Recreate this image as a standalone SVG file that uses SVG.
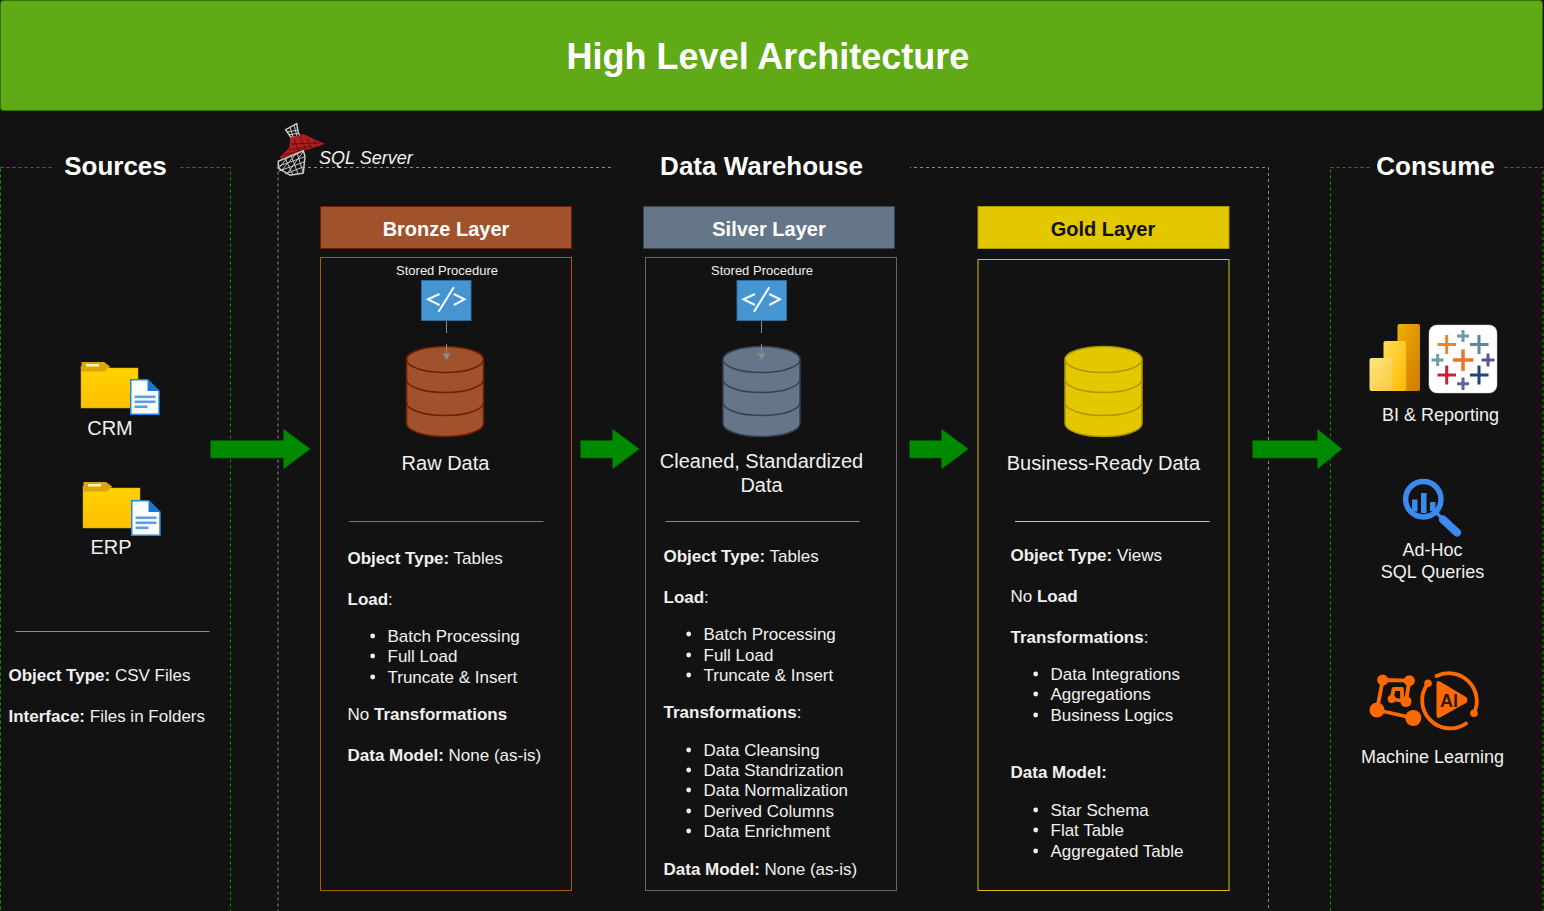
<svg xmlns="http://www.w3.org/2000/svg" width="1544" height="911" viewBox="0 0 1544 911">
<style>
text{font-family:"Liberation Sans",Arial,sans-serif;fill:#f0f0f0;font-size:17px}
.b{font-weight:bold}
.h{font-weight:bold;font-size:20px;text-anchor:middle}
.t{font-weight:bold;font-size:26px;text-anchor:middle;fill:#fff}
.m{text-anchor:middle;font-size:20px}
.s{text-anchor:middle;font-size:18px}
.sp{text-anchor:middle;font-size:13px}
.frame{fill:none;stroke-dasharray:3 3}
.arrow{fill:#008a00;stroke:#005700;stroke-width:.5}
.lnk{stroke:#8c8c8c;stroke-width:1;fill:none}
.ico{fill:#4495d1;stroke:#2f6c9c}
.g{stroke:#fff;stroke-width:2;fill:none}
.bl{fill:#f0f0f0}
.tb{stroke-width:3;fill:none}
</style>
<defs>
<linearGradient id="fold" x1="0" y1="0" x2="0" y2="1"><stop offset="0" stop-color="#ffd400"/><stop offset="1" stop-color="#ffbf00"/></linearGradient>
<linearGradient id="p1" x1="0" y1="0" x2="1" y2="1"><stop offset="0" stop-color="#eeb000"/><stop offset="1" stop-color="#d07a00"/></linearGradient>
<linearGradient id="p2" x1="0" y1="0" x2="1" y2="1"><stop offset="0" stop-color="#ffdc55"/><stop offset="1" stop-color="#ffb900"/></linearGradient>
<linearGradient id="p3" x1="0" y1="0" x2="1" y2="1"><stop offset="0" stop-color="#ffe680"/><stop offset="1" stop-color="#f8c93e"/></linearGradient>
<g id="folder">
<path d="M0 6V46H57V6H29L24 4H0Z" fill="url(#fold)" stroke="#c9a400" stroke-width=".5"/>
<path d="M0.5 0H23L29 4.500L24 9.500H0.500Z" fill="#dda600"/>
<rect x="5" y="2" width="13" height="2.500" fill="#fff3c4"/>
</g>
<g id="doc">
<path d="M0.750 0.750H17.500L29 12V35.250H0.750Z" fill="#fff" stroke="#1e88e5" stroke-width="1.500"/>
<path d="M17.500 0.750L29 12H17.500Z" fill="#1478d4"/>
<rect x="4.500" y="16.500" width="21" height="2.600" fill="#5a9ee8"/>
<rect x="4.500" y="21.500" width="21" height="2.600" fill="#5a9ee8"/>
<rect x="4.500" y="26.500" width="13" height="2.600" fill="#5a9ee8"/>
</g>
<g id="code">
<rect x=".5" y=".5" width="49.500" height="40" class="ico"/>
<path class="g" d="M18.500 14L7 19.300L18.500 25M32.800 14L43.500 19.300L32.800 25M32.800 7.300L17.500 31.700"/>
</g>
</defs>
<rect width="1544" height="911" fill="#121212"/>

<g id="header">
<rect x=".5" y=".5" width="1542" height="110" rx="3" fill="#60a917" stroke="#2d7600"/>
<text x="768" y="69" text-anchor="middle" class="b" style="font-size:36px;fill:#fff">High Level Architecture</text>
</g>

<g id="sources">
<rect x=".5" y="167.500" width="230" height="750" class="frame" stroke="#00a000"/>
<rect x="52" y="150" width="128" height="34" fill="#121212"/>
<text x="115.500" y="175" class="t">Sources</text>
<use href="#folder" x="81" y="362"/><use href="#doc" x="130" y="379"/>
<text x="110" y="435" class="m">CRM</text>
<use href="#folder" x="83" y="482"/><use href="#doc" x="131" y="500"/>
<text x="111" y="554" class="m">ERP</text>
<path d="M15.500 631.500H209.500" stroke="#8c8c8c"/>
<text x="8.500" y="681"><tspan class="b">Object Type:</tspan> CSV Files</text>
<text x="8.500" y="722"><tspan class="b">Interface:</tspan> Files in Folders</text>
</g>

<g id="dw">
<rect x="278" y="167.500" width="990.500" height="750" class="frame" stroke="#8c8c8c"/>
<rect x="612" y="150" width="298" height="34" fill="#121212"/>
<text x="761.500" y="175" class="t">Data Warehouse</text>
</g>

<g id="sql-logo">
<path d="M285.700 129.700L296.700 123.700L298.300 133L301 137L291 137.500Z" fill="#121212" stroke="#c8c8c8" stroke-width="1.500"/>
<path d="M287 132L298 130M290 127L293 137M294 125L297 136M289 135L299 133" stroke="#c8c8c8" fill="none"/>
<path d="M290.700 138L303.300 135L323.300 144L305 149.700L280 158L290 148Z" fill="#b01e1e" stroke="#b81e1e" stroke-width="1.200"/>
<path d="M294 139L299 152M300 137L306 149M307 138L311 148M314 140L316 146M291 144L320 143M289 150L312 146M284 155L305 149" stroke="#4c0f0f" stroke-width=".8" fill="none"/>
<path d="M278.300 161.300L303.300 150.700L305 156.300L303.300 173L290 175.300L278.300 168Z" fill="#121212" stroke="#c8c8c8" stroke-width="1.500"/>
<path d="M279 166L304 157M279 171L304 162M285 174L303 167M285 158L293 175M291 155L298 174M297 153L303 172M303 152L287 174M296 154L281 171M288 157L279 168" stroke="#c8c8c8" fill="none"/>
<text x="319" y="164" font-style="italic" style="font-size:18px">SQL Server</text>
</g>

<g id="bronze">
<rect x="320.500" y="206.500" width="251" height="42" fill="#a0522d" stroke="#6d1f00"/>
<text x="446" y="236" class="h" style="fill:#fff">Bronze Layer</text>
<rect x="320.500" y="257.500" width="251" height="633" fill="none" stroke="#b05a00"/>
<text x="447" y="275" class="sp">Stored Procedure</text>
<use href="#code" x="421" y="280"/>
<g transform="translate(406.500 346.500)">
<path d="M0 13A38.500 13 0 0 1 77 13V77A38.500 13 0 0 1 0 77Z" fill="#a0522d" stroke="#6d1f00" stroke-width="1.500"/>
<path d="M0 13A38.500 13 0 0 0 77 13M0 33A38.500 13 0 0 0 77 33M0 56A38.500 13 0 0 0 77 56" fill="none" stroke="#6d1f00" stroke-width="1.500"/>
</g>
<text x="445.500" y="470" class="m">Raw Data</text>
<path d="M349 521.500H543.500" stroke="#8b7355"/>
<text x="347.500" y="564"><tspan class="b">Object Type:</tspan> Tables</text>
<text x="347.500" y="605"><tspan class="b">Load</tspan>:</text>
<text x="387.500" y="642">Batch Processing</text>
<text x="387.500" y="662">Full Load</text>
<text x="387.500" y="683">Truncate &amp; Insert</text>
<circle class="bl" cx="372.700" cy="636" r="2.400"/><circle class="bl" cx="372.700" cy="656" r="2.400"/><circle class="bl" cx="372.700" cy="677" r="2.400"/>
<text x="347.500" y="720">No <tspan class="b">Transformations</tspan></text>
<text x="347.500" y="761"><tspan class="b">Data Model:</tspan> None (as-is)</text>
</g>

<g id="silver">
<rect x="643.500" y="206.500" width="251" height="42" fill="#647687" stroke="#314354"/>
<text x="769" y="236" class="h" style="fill:#fff">Silver Layer</text>
<rect x="645.500" y="257.500" width="251" height="633" fill="none" stroke="#666"/>
<text x="762" y="275" class="sp">Stored Procedure</text>
<use href="#code" x="736.500" y="280"/>
<g transform="translate(723 346.500)">
<path d="M0 13A38.500 13 0 0 1 77 13V77A38.500 13 0 0 1 0 77Z" fill="#647687" stroke="#314354" stroke-width="1.500"/>
<path d="M0 13A38.500 13 0 0 0 77 13M0 33A38.500 13 0 0 0 77 33M0 56A38.500 13 0 0 0 77 56" fill="none" stroke="#314354" stroke-width="1.500"/>
</g>
<text x="761.500" y="468" class="m">Cleaned, Standardized</text>
<text x="761.500" y="492" class="m">Data</text>
<path d="M665.500 521.500H859.500" stroke="#8c8c8c"/>
<text x="663.500" y="562"><tspan class="b">Object Type:</tspan> Tables</text>
<text x="663.500" y="603"><tspan class="b">Load</tspan>:</text>
<text x="703.500" y="640">Batch Processing</text>
<text x="703.500" y="661">Full Load</text>
<text x="703.500" y="681">Truncate &amp; Insert</text>
<circle class="bl" cx="688.700" cy="634" r="2.400"/><circle class="bl" cx="688.700" cy="655" r="2.400"/><circle class="bl" cx="688.700" cy="675" r="2.400"/>
<text x="663.500" y="718"><tspan class="b">Transformations</tspan>:</text>
<text x="703.500" y="756">Data Cleansing</text>
<text x="703.500" y="776">Data Standrization</text>
<text x="703.500" y="796">Data Normalization</text>
<text x="703.500" y="817">Derived Columns</text>
<text x="703.500" y="837">Data Enrichment</text>
<circle class="bl" cx="688.700" cy="750" r="2.400"/><circle class="bl" cx="688.700" cy="770" r="2.400"/><circle class="bl" cx="688.700" cy="790" r="2.400"/><circle class="bl" cx="688.700" cy="811" r="2.400"/><circle class="bl" cx="688.700" cy="831" r="2.400"/>
<text x="663.500" y="875"><tspan class="b">Data Model:</tspan> None (as-is)</text>
</g>

<g id="gold">
<rect x="978" y="206.500" width="251" height="42" fill="#e3c800" stroke="#b09500"/>
<text x="1103" y="236" class="h" style="fill:#111">Gold Layer</text>
<rect x="978" y="259.500" width="251" height="631" fill="none" stroke="#d6c000"/>
<g transform="translate(1065 346.500)">
<path d="M0 13A38.500 13 0 0 1 77 13V77A38.500 13 0 0 1 0 77Z" fill="#e3c800" stroke="#b09500" stroke-width="1.500"/>
<path d="M0 13A38.500 13 0 0 0 77 13M0 33A38.500 13 0 0 0 77 33M0 56A38.500 13 0 0 0 77 56" fill="none" stroke="#b09500" stroke-width="1.500"/>
</g>
<text x="1103.500" y="470" class="m">Business-Ready Data</text>
<path d="M1015 521.500H1209.500" stroke="#c8c8c8"/>
<text x="1010.500" y="561"><tspan class="b">Object Type:</tspan> Views</text>
<text x="1010.500" y="602">No <tspan class="b">Load</tspan></text>
<text x="1010.500" y="643"><tspan class="b">Transformations</tspan>:</text>
<text x="1050.500" y="680">Data Integrations</text>
<text x="1050.500" y="700">Aggregations</text>
<text x="1050.500" y="721">Business Logics</text>
<circle class="bl" cx="1035.700" cy="674" r="2.400"/><circle class="bl" cx="1035.700" cy="694" r="2.400"/><circle class="bl" cx="1035.700" cy="715" r="2.400"/>
<text x="1010.500" y="778"><tspan class="b">Data Model:</tspan></text>
<text x="1050.500" y="816">Star Schema</text>
<text x="1050.500" y="836">Flat Table</text>
<text x="1050.500" y="857">Aggregated Table</text>
<circle class="bl" cx="1035.700" cy="810" r="2.400"/><circle class="bl" cx="1035.700" cy="830" r="2.400"/><circle class="bl" cx="1035.700" cy="851" r="2.400"/>
</g>

<g id="consume">
<rect x="1330.500" y="167.500" width="212.500" height="750" class="frame" stroke="#00a000"/>
<rect x="1370" y="150" width="131" height="34" fill="#121212"/>
<text x="1435.500" y="175" class="t">Consume</text>
<rect x="1397.500" y="324" width="22.500" height="67" rx="2" fill="url(#p1)"/>
<rect x="1383.500" y="341" width="22.500" height="50" rx="2" fill="url(#p2)"/>
<rect x="1369.500" y="358" width="22.500" height="33" rx="2" fill="url(#p3)"/>
<rect x="1429" y="325" width="68" height="68" rx="8" fill="#fff" stroke="#ccc" stroke-width=".5"/>
<path class="tb" stroke="#e8862d" d="M1437.500 344.500H1456M1446.700 335V354"/>
<path class="tb" stroke="#7099a6" d="M1457 336H1469M1463 330V342M1431.500 360H1443.500M1437.700 354V366"/>
<path class="tb" stroke="#5b879b" d="M1470 344.500H1488.500M1479 335V354"/>
<path class="tb" stroke="#e8762b" style="stroke-width:3.500" d="M1453 360H1473.500M1463 349.500V371"/>
<path class="tb" stroke="#59568f" d="M1481.500 360H1494.500M1488 353.500V366.500"/>
<path class="tb" stroke="#c72037" d="M1437.500 375H1456M1446.700 365.500V384.500"/>
<path class="tb" stroke="#1f447a" d="M1470 375H1488.500M1479 365.500V384.500"/>
<path class="tb" stroke="#5c6692" d="M1457 383.700H1469M1463 377.500V390"/>
<text x="1440.500" y="421" class="s">BI &amp; Reporting</text>
<circle cx="1423.300" cy="499.300" r="17.700" fill="none" stroke="#3b8bef" stroke-width="5.500"/>
<path d="M1412 499.500h5.500v12h-5.500zM1421 493h5.500v20h-5.500zM1430 502h5.500v9h-5.500z" fill="#3b8bef"/>
<path d="M1437 513.500L1444 520" stroke="#3b8bef" stroke-width="3.500"/>
<path d="M1443 519.500L1457 532.500" stroke="#3b8bef" stroke-width="8" stroke-linecap="round"/>
<text x="1432.500" y="556" class="s">Ad-Hoc</text>
<text x="1432.500" y="578" class="s">SQL Queries</text>
<g fill="#ff6a00" stroke="none">
<circle cx="1382.700" cy="680" r="5.500"/><circle cx="1409.300" cy="680.700" r="5.500"/><circle cx="1377" cy="710" r="7.500"/><circle cx="1413.300" cy="718" r="8"/><circle cx="1391.700" cy="699" r="4"/><circle cx="1406" cy="701.500" r="5.500"/>
<circle cx="1428" cy="683.300" r="3.800"/><circle cx="1474" cy="713.300" r="3.800"/>
<path d="M1436.500 683.500Q1436.500 680 1440 681.500L1466 697Q1469 700 1466 703L1440 717.500Q1436.500 719 1436.500 715.500Z"/>
</g>
<g fill="none" stroke="#ff6a00" stroke-width="3.800" stroke-linecap="round" stroke-linejoin="round">
<path d="M1382.700 680L1409.300 680.700L1406 701.500L1391.700 699L1393.500 689H1402V701M1382.700 680L1377 710L1413.300 718"/>
<path d="M1428 683.300A28 28 0 0 0 1466 723.500M1436.500 676A28 28 0 0 1 1474 713.300"/>
</g>
<text x="1449" y="707" text-anchor="middle" class="b" style="font-size:18px;fill:#2b1708">AI</text>
<text x="1432.500" y="763" class="s">Machine Learning</text>
</g>

<g id="connectors">
<path class="lnk" d="M446.500 321V333M446.500 344V355"/>
<path d="M442.500 352.700L446.500 354L450.500 352.700L446.500 360Z" fill="#8c8c8c"/>
<path class="lnk" d="M761.500 321V333M761.500 344V355"/>
<path d="M757.500 352.700L761.500 354L765.500 352.700L761.500 360Z" fill="#8c8c8c"/>
<path class="arrow" d="M210.500 440.500H283.500V429L310.500 449L283.500 469V458H210.500Z"/>
<path class="arrow" d="M580.500 440.500H612.500V429L639.500 449L612.500 469V458H580.500Z"/>
<path class="arrow" d="M909.500 440.500H941.500V429L968.500 449L941.500 469V458H909.500Z"/>
<path class="arrow" d="M1252.500 440.500H1317.500V429L1342 449L1317.500 469V458H1252.500Z"/>
</g>
</svg>
